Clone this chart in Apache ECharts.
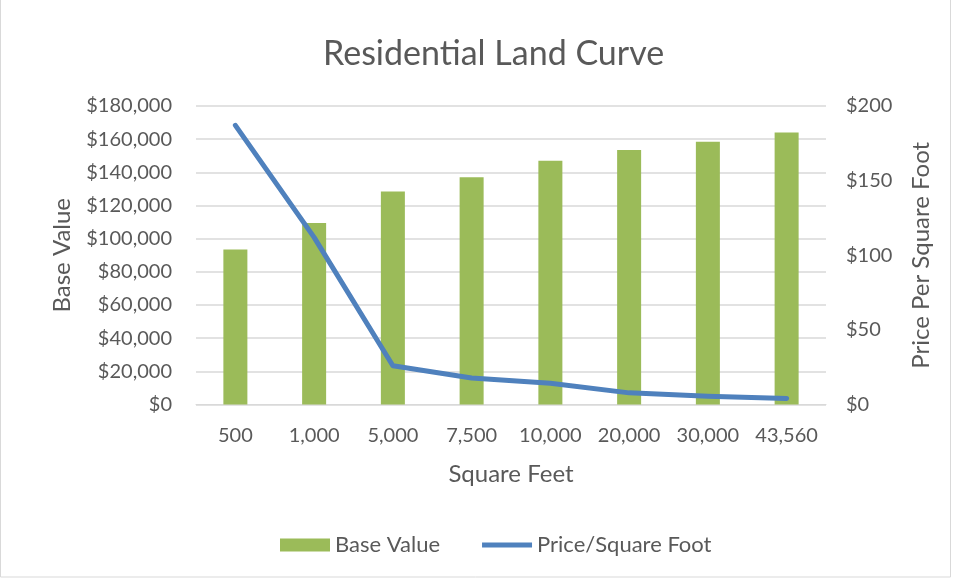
<!DOCTYPE html>
<html><head><meta charset="utf-8">
<script src="https://cdn.jsdelivr.net/npm/echarts@6/dist/echarts.min.js"></script>
<style>html,body{margin:0;padding:0;background:#fff}#c{width:954px;height:579px}</style>
</head><body><div id="c"></div>
<script>
const categories = ['500','1,000','5,000','7,500','10,000','20,000','30,000','43,560'];
const baseValue = [93500, 109500, 128500, 137000, 147000, 153500, 158500, 164000];
const pricePerSqFt = [187, 112, 26, 17.8, 14.3, 7.8, 5.6, 4];
const leftTicks = {min: 0, max: 180000, interval: 20000};
const rightTicks = {min: 0, max: 200, interval: 50};

const FONT = 'Lato';
const GREY = '#595959';
const chart = echarts.init(document.getElementById('c'));
chart.setOption({
  animation: false,
  textStyle: {fontFamily: FONT},
  title: {text: 'Residential Land Curve', left: 318, top: 32,
    textStyle: {fontFamily: FONT, fontSize: 34, fontWeight: 'normal', color: GREY}},
  grid: {left: 196, right: 128, top: 106, bottom: 174.5},
  legend: {bottom: 18, left: 275, itemGap: 42, itemWidth: 50, itemHeight: 13,
    textStyle: {fontFamily: FONT, fontSize: 22, color: GREY},
    data: [{name: 'Base Value', icon: 'rect'},
           {name: 'Price/Square Foot', icon: 'path://M0,0 L50,0 L50,5 L0,5 Z', itemStyle:{color:'#4F81BD'}}]},
  xAxis: {type: 'category', data: categories,
    name: 'Square Feet', nameLocation: 'middle', nameGap: 58,
    nameTextStyle: {fontFamily: FONT, fontSize: 24, color: GREY},
    axisLine: {lineStyle: {color: '#D9D9D9'}}, axisTick: {show: false},
    axisLabel: {fontFamily: FONT, fontSize: 20, color: GREY, margin: 21, interval: 0}},
  yAxis: [
    {type: 'value', min: leftTicks.min, max: leftTicks.max, interval: leftTicks.interval,
     name: 'Base Value', nameLocation: 'middle', nameGap: 122, nameRotate: 90,
     nameTextStyle: {fontFamily: FONT, fontSize: 24, color: GREY},
     axisLine: {show: false}, axisTick: {show: false},
     splitLine: {lineStyle: {color: '#D9D9D9', width: 1.5}},
     axisLabel: {fontFamily: FONT, fontSize: 20, color: GREY, margin: 24,
       formatter: v => '$' + v.toLocaleString('en-US')}},
    {type: 'value', min: rightTicks.min, max: rightTicks.max, interval: rightTicks.interval,
     name: 'Price Per Square Foot', nameLocation: 'middle', nameGap: 83, nameRotate: 90,
     nameTextStyle: {fontFamily: FONT, fontSize: 24, color: GREY},
     axisLine: {show: false}, axisTick: {show: false}, splitLine: {show: false},
     axisLabel: {fontFamily: FONT, fontSize: 20, color: GREY, margin: 20,
       formatter: v => '$' + v}}
  ],
  series: [
    {name: 'Base Value', type: 'bar', data: baseValue, yAxisIndex: 0, barWidth: 24,
     itemStyle: {color: '#9BBB59'}},
    {name: 'Price/Square Foot', type: 'line', data: pricePerSqFt, yAxisIndex: 1,
     symbol: 'none', lineStyle: {color: '#4F81BD', width: 5, cap: 'round', join: 'round'},
     itemStyle: {color: '#4F81BD'}}
  ],
  graphic: [{type: 'rect', shape: {x: 0.5, y: -2, width: 950, height: 579},
    style: {fill: 'none', stroke: '#D9D9D9', lineWidth: 1}, silent: true}]
});
</script></body></html>
